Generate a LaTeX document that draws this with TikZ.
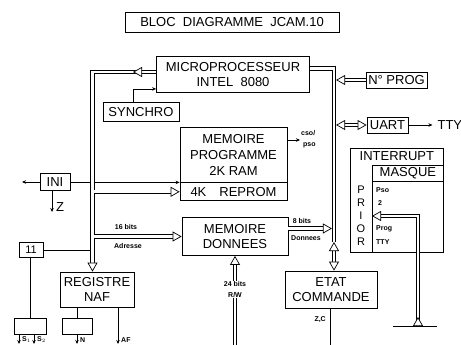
\documentclass[tikz,border=0pt]{standalone}
\usepackage{fontspec}
\setmainfont{Liberation Sans}
\usepackage{tikz}
\usetikzlibrary{arrows.meta,positioning,calc}
\newcommand{\blkfont}{\fontsize{13}{15}\selectfont}
\newcommand{\titfont}{\fontsize{13}{14}\selectfont}
\newcommand{\lblfont}{\fontsize{7}{8}\selectfont\bfseries}
\tikzset{
  blk/.style={draw, line width=0.8pt, inner sep=0pt, align=center, font=\blkfont},
  lbl/.style={inner sep=0pt, font=\lblfont},
  wire/.style={line width=0.7pt},
  sarr/.style={wire, -{Stealth[length=4pt,width=3.5pt]}},
  bus/.style={double, double distance=2.8pt, line width=0.7pt},
  tri/.tip={Triangle[fill=white, length=9pt, width=10pt, line width=0.7pt]},
  busarr/.style={bus, -{tri}},
  busdarr/.style={bus, {tri}-{tri}},
}

\begin{document}
\begin{tikzpicture}[x=1pt, y=-1pt]
\useasboundingbox (0,0) rectangle (461,345);
% blocs
\node[blk, font=\titfont, minimum width=214, minimum height=20] (titre) at (232,22) {BLOC\ \ DIAGRAMME\ \ JCAM.10};
\node[blk, minimum width=153, minimum height=36] (micro) at (233,74.5) {MICROPROCESSEUR\\INTEL\ \ 8080};
\node[blk, minimum width=76, minimum height=19] (synchro) at (141,112) {SYNCHRO};
\node[blk, minimum width=107, minimum height=55, font=\fontsize{13}{16}\selectfont] (mprog) at (233.5,154.5) {MEMOIRE\\PROGRAMME\\2K RAM};
\node[blk, minimum width=107, minimum height=18, below=0pt of mprog] (reprom) {4K\quad REPROM};
\node[blk, minimum width=106, minimum height=38, font=\fontsize{13}{15}\selectfont] (mdon) at (235,236.5) {MEMOIRE\\DONNEES};
\node[blk, minimum width=92, minimum height=37] (etat) at (331,289.5) {ETAT\\COMMANDE};
\node[blk, minimum width=74, minimum height=35] (naf) at (97,289.5) {REGISTRE\\NAF};
\node[blk, minimum width=61, minimum height=16] (nprog) at (396.5,80) {N° PROG};
\node[blk, minimum width=41, minimum height=16] (uart) at (387.5,125) {UART};
\node[font=\blkfont, inner sep=1pt, right=28pt of uart] (tty) {TTY};
\node[blk, minimum width=30, minimum height=17] (ini) at (55,182) {INI};
\node[font=\blkfont, inner sep=0pt] (zlab) at (60,207) {Z};
\node[blk, minimum width=24, minimum height=15, font=\fontsize{11}{12}\selectfont] (onze) at (31,250) {11};
\node[blk, minimum width=32, minimum height=16] (sa) at (30,326) {};
\node[blk, minimum width=30, minimum height=16] (sb) at (77,326) {};
% interruptions
\node[blk, minimum width=93, minimum height=104, anchor=north west] (intr) at (350,148) {};
\node[font=\blkfont, inner sep=0pt, below=3pt of intr.north] (intrt) {INTERRUPT};
\node[blk, minimum width=71, minimum height=16, anchor=north east] (masque) at ([yshift=-17pt]intr.north east) {MASQUE};
\draw[wire] (masque.south west) -- (masque.south west |- intr.south);
\foreach \l [count=\i] in {P,R,I,O,R}
  \node[font=\fontsize{11}{12}\selectfont, inner sep=0pt] (prio\i) at (361,177+13*\i) {\l};
\node[lbl, anchor=west] (ipso) at (376,190) {Pso};
\node[lbl, anchor=west] (ideux) at (378,203) {2};
\node[lbl, anchor=west] (iprog) at (376,229) {Prog};
\node[lbl, anchor=west] (itty) at (376,242) {TTY};
% etiquettes
\node[lbl] (b16) at (126,227) {16 bits};
\node[lbl] (adr) at (128,246) {Adresse};
\node[lbl] (b8) at (302,221) {8 bits};
\node[lbl] (don) at (306,238) {Donnees};
\node[lbl, anchor=west] (cso) at (301,133) {cso/};
\node[lbl, anchor=west] (pso) at (303,145) {pso};
\node[lbl] (b24) at (235,284) {24 bits};
\node[lbl] (rw) at (235,295) {R/W};
\node[lbl, anchor=east] (zc) at (326,320) {Z,C};
\node[lbl, anchor=west] (ls1) at (22,340) {S$_1$};
\node[lbl, anchor=west] (ls2) at (37,340) {S$_2$};
\node[lbl, anchor=west] (ln) at (80,340) {N};
\node[lbl, anchor=west] (laf) at (121,340) {AF};
\coordinate (lb) at (92.5,72);
\coordinate (lbtip) at (133,72);
\coordinate (rb) at (334,68);
\coordinate (rbend) at (334,242);
\coordinate (inig) at (22,182);
\coordinate (zend) at (52,212);
\coordinate (csoend) at (300,140);
\coordinate (afend) at (118,344);
\coordinate (nend) at (77,344);
\coordinate (s1end) at (19,344);
\coordinate (s2end) at (34,344);
\coordinate (rwend) at (235,345);
\coordinate (zcend) at (330,345);
\coordinate (gnd) at (418,326);
% fils simples
\draw[sarr] ([xshift=-8pt]synchro.north) |- ([yshift=4pt]micro.south west);
\draw[sarr] (ini.west) -- (inig);
\draw[sarr] (ini.south -| zend) -- (zend);
\draw[wire] (ini.east) -- (ini.east -| lb);
\draw[sarr] (lb |- mprog.south) -- (mprog.south west);
\draw[wire] (onze.east) -- (onze.east -| lb);
\draw[wire] (onze.south -| sa.north) -- (sa.north);
\draw[wire] (naf.south -| sb.north) -- (sb.north);
\draw[sarr] (naf.south -| afend) -- (afend);
\draw[sarr] (sb.south) -- (nend);
\draw[sarr] (sa.south -| s1end) -- (s1end);
\draw[sarr] (sa.south -| s2end) -- (s2end);
\draw[sarr] (mprog.east |- csoend) -- (csoend);
\draw[wire] (etat.south -| zcend) -- (zcend);
\draw[sarr, shorten >=4pt] (uart.east) -- (tty.west);
\draw[wire] ([xshift=-25pt]gnd) -- ([xshift=19pt]gnd);
% bus
\draw[busarr] (micro.west |- lb) -- (lb) -- (lb |- naf.north);
\draw[busarr] (micro.west |- lb) -- (lbtip);
\draw[busarr, shorten <=1.4pt] (lb |- reprom.west) -- (reprom.west);
\draw[busarr, shorten <=1.4pt] (lb |- mdon.west) -- (mdon.west);
\draw[bus] ([yshift=6pt]micro.east) -| (rbend);
\draw[busdarr] (rbend) -- (rbend |- etat.north);
\draw[busarr, shorten >=2.1pt] (nprog.west) -- (nprog.west -| rb);
\draw[busdarr, shorten <=2.1pt] (uart.west -| rb) -- (uart.west);
\draw[busarr, shorten >=2.1pt] ([yshift=8pt]mdon.east) -- ([yshift=8pt]mdon.east -| rb);
\draw[busarr] (b24.north) -- (b24.north |- mdon.south);
\draw[bus] (rw.south) -- (rwend);
\draw[bus, {Triangle[fill=white, length=9pt, width=10pt, line width=0.7pt, reversed]}-{tri}] (gnd) |- (masque.west |- prio3);
\end{tikzpicture}
\end{document}
